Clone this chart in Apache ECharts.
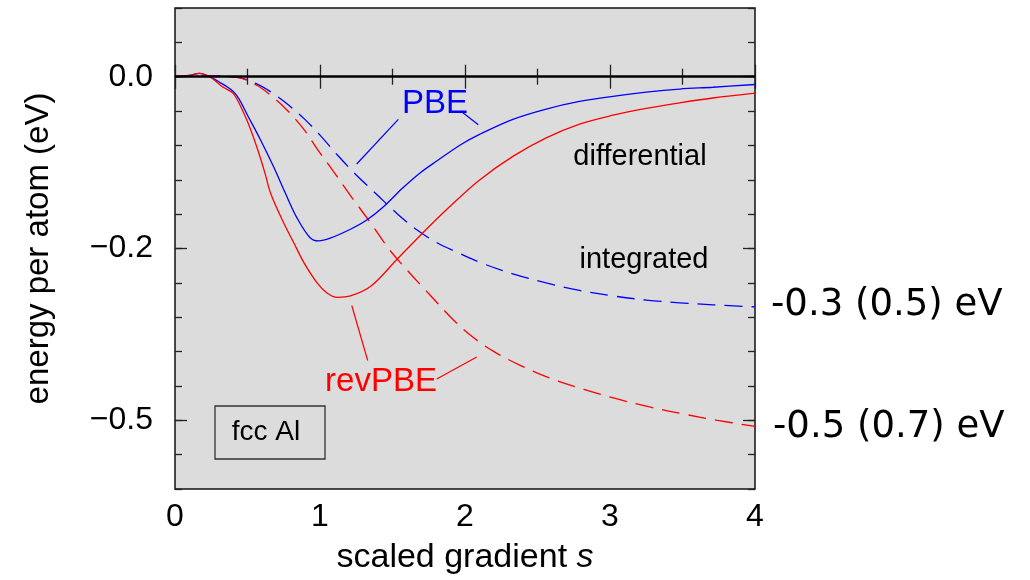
<!DOCTYPE html>
<html>
<head>
<meta charset="utf-8">
<title>fcc Al energy per atom vs scaled gradient</title>
<script src="https://cdn.jsdelivr.net/npm/echarts@6/dist/echarts.min.js"></script>
<style>
  html, body { margin: 0; padding: 0; background: #ffffff; }
  #chart { width: 1030px; height: 580px; }
</style>
</head>
<body>
<div id="chart"></div>
<script>
// PBE, differential (solid blue)
const pbeDiffS = [0, 0.1, 0.17, 0.24, 0.30, 0.40, 0.44, 0.50, 0.59, 0.68, 0.76, 0.84, 0.93, 0.99, 1.07, 1.21, 1.32, 1.44, 1.57, 1.69, 1.81, 1.97, 2.10, 2.33, 2.56, 2.79, 3.02, 3.25, 3.48, 3.71, 4.0];
const pbeDiffE = [0, 0.002, 0.005, 0.0, -0.007, -0.021, -0.032, -0.056, -0.092, -0.131, -0.169, -0.205, -0.234, -0.239, -0.235, -0.222, -0.209, -0.189, -0.162, -0.140, -0.122, -0.099, -0.084, -0.062, -0.047, -0.036, -0.0285, -0.0225, -0.018, -0.0153, -0.0113];

// revPBE, differential (solid red)
const revDiffS = [0, 0.1, 0.17, 0.24, 0.33, 0.40, 0.47, 0.52, 0.57, 0.62, 0.66, 0.75, 0.82, 0.89, 0.98, 1.05, 1.12, 1.21, 1.35, 1.53, 1.71, 1.87, 2.09, 2.33, 2.56, 2.79, 3.02, 3.25, 3.48, 3.71, 4.0];
const revDiffE = [0, 0.002, 0.005, 0.0, -0.015, -0.024, -0.051, -0.076, -0.106, -0.140, -0.170, -0.213, -0.242, -0.271, -0.300, -0.315, -0.321, -0.319, -0.305, -0.266, -0.227, -0.194, -0.152, -0.116, -0.089, -0.069, -0.056, -0.046, -0.038, -0.031, -0.024];

// PBE, integrated (dashed blue)
const pbeIntS = [0, 0.2, 0.43, 0.56, 0.66, 0.77, 0.89, 1.0, 1.12, 1.25, 1.39, 1.53, 1.67, 1.81, 1.95, 2.10, 2.33, 2.56, 2.79, 3.02, 3.25, 3.48, 3.71, 4.0];
const pbeIntE = [0, 0.001, -0.001, -0.010, -0.022, -0.039, -0.061, -0.085, -0.114, -0.143, -0.171, -0.199, -0.223, -0.242, -0.256, -0.270, -0.287, -0.300, -0.311, -0.319, -0.325, -0.329, -0.332, -0.335];

// revPBE, integrated (dashed red)
const revIntS = [0, 0.2, 0.43, 0.56, 0.66, 0.77, 0.89, 0.98, 1.09, 1.21, 1.35, 1.48, 1.62, 1.76, 1.92, 2.06, 2.20, 2.38, 2.59, 2.82, 3.05, 3.28, 3.51, 3.74, 4.0];
const revIntE = [0, 0.001, -0.001, -0.012, -0.027, -0.048, -0.077, -0.105, -0.137, -0.173, -0.213, -0.252, -0.286, -0.318, -0.354, -0.380, -0.400, -0.420, -0.439, -0.455, -0.469, -0.481, -0.491, -0.500, -0.509];

// axis ticks
const xTicks = [0, 1, 2, 3, 4];
const yTickValues = [0, -0.25, -0.5];
const yTickLabels = ['0.0', '\u22120.2', '\u22120.5'];

// leader lines for the labels (data coordinates)
const pbeLeaders = [[[1.54, -0.062], [1.253, -0.127]], [[1.97, -0.050], [2.092, -0.070]]];
const revLeaders = [[[1.219, -0.333], [1.329, -0.413]], [[1.805, -0.440], [2.081, -0.408]]];

const BLUE = '#0000ff';
const RED = '#ff0000';
const FONT = '"Liberation Sans", Arial, sans-serif';

function zip(xs, ys) {
  return xs.map((x, i) => [x, ys[i]]);
}

function curve(name, xs, ys, color, dashed) {
  return {
    name: name,
    type: 'line',
    data: zip(xs, ys),
    smooth: 0.35,
    symbol: 'none',
    silent: true,
    z: 3,
    lineStyle: { color: color, width: 1.3, type: dashed ? [18, 9] : 'solid' }
  };
}

function leader(seg, color) {
  return {
    type: 'line',
    data: seg,
    symbol: 'none',
    silent: true,
    lineStyle: { color: color, width: 1.2 }
  };
}

const tickStyle = { color: '#222', width: 1.3 };

const chart = echarts.init(document.getElementById('chart'));

const option = {
  animation: false,
  backgroundColor: '#ffffff',
  grid: {
    left: 175, right: 275, top: 8, bottom: 91,
    show: true,
    backgroundColor: '#dcdcdc',
    borderColor: '#111',
    borderWidth: 1.5
  },
  xAxis: [
    {
      type: 'value', position: 'bottom', min: 0, max: 4, interval: 1,
      axisLine: { show: false },
      axisTick: { inside: true, length: 12, lineStyle: tickStyle },
      minorTick: { show: true, splitNumber: 2, length: 8, lineStyle: tickStyle },
      splitLine: { show: false },
      axisLabel: {
        margin: 12, color: '#000', fontSize: 32, fontFamily: FONT,
        formatter: v => xTicks.indexOf(v) >= 0 ? String(v) : ''
      },
      name: 'scaled gradient {i|s}',
      nameLocation: 'middle',
      nameGap: 52,
      nameTextStyle: {
        color: '#000', fontSize: 34, fontFamily: FONT,
        rich: { i: { fontStyle: 'italic', fontSize: 34, fontFamily: FONT, color: '#000' } }
      }
    },
    {
      type: 'value', position: 'top', min: 0, max: 4, interval: 1,
      axisLine: { show: false },
      axisTick: { inside: true, length: 12, lineStyle: tickStyle },
      minorTick: { show: true, splitNumber: 2, length: 8, lineStyle: tickStyle },
      splitLine: { show: false },
      axisLabel: { show: false }
    }
  ],
  yAxis: [
    {
      type: 'value', position: 'left', min: -0.6, max: 0.1, interval: 0.05,
      axisLine: { show: false },
      axisTick: { inside: true, length: 7, lineStyle: tickStyle },
      splitLine: { show: false },
      axisLabel: {
        customValues: yTickValues,
        margin: 22, color: '#000', fontSize: 32, fontFamily: FONT,
        formatter: v => {
          const i = yTickValues.findIndex(t => Math.abs(t - v) < 1e-6);
          return i >= 0 ? yTickLabels[i] : '';
        }
      },
      name: 'energy per atom (eV)',
      nameLocation: 'middle',
      nameGap: 120,
      nameTextStyle: { color: '#000', fontSize: 33, fontFamily: FONT }
    },
    {
      type: 'value', position: 'left', min: -0.6, max: 0.1,
      axisLine: { show: false },
      axisTick: { inside: true, length: 12, customValues: yTickValues, lineStyle: tickStyle },
      splitLine: { show: false },
      axisLabel: { show: false }
    },
    {
      type: 'value', position: 'right', min: -0.6, max: 0.1, interval: 0.05,
      axisLine: { show: false },
      axisTick: { inside: true, length: 7, lineStyle: tickStyle },
      splitLine: { show: false },
      axisLabel: { show: false }
    },
    {
      type: 'value', position: 'right', min: -0.6, max: 0.1,
      axisLine: { show: false },
      axisTick: { inside: true, length: 12, customValues: yTickValues, lineStyle: tickStyle },
      splitLine: { show: false },
      axisLabel: { show: false }
    }
  ],
  series: [
    {
      type: 'line', data: [], silent: true,
      markLine: {
        silent: true, symbol: 'none', label: { show: false },
        lineStyle: { color: '#000', width: 2.5, type: 'solid' },
        data: [{ yAxis: 0 }]
      }
    },
    curve('PBE integrated', pbeIntS, pbeIntE, BLUE, true),
    curve('revPBE integrated', revIntS, revIntE, RED, true),
    curve('PBE differential', pbeDiffS, pbeDiffE, BLUE, false),
    curve('revPBE differential', revDiffS, revDiffE, RED, false),
    ...pbeLeaders.map(s => leader(s, BLUE)),
    ...revLeaders.map(s => leader(s, RED))
  ],
  graphic: [
    { type: 'text', x: 435, y: 104, style: { text: 'PBE', fill: BLUE, fontSize: 33, fontFamily: FONT, align: 'center', verticalAlign: 'middle' } },
    { type: 'text', x: 381, y: 382, style: { text: 'revPBE', fill: RED, fontSize: 33, fontFamily: FONT, align: 'center', verticalAlign: 'middle' } },
    { type: 'text', x: 640, y: 157, style: { text: 'differential', fill: '#000', fontSize: 29, fontFamily: FONT, align: 'center', verticalAlign: 'middle' } },
    { type: 'text', x: 644, y: 260, style: { text: 'integrated', fill: '#000', fontSize: 29, fontFamily: FONT, align: 'center', verticalAlign: 'middle' } },
    { type: 'rect', shape: { x: 215, y: 406, width: 110, height: 53 }, style: { fill: 'rgba(0,0,0,0)', stroke: '#333', lineWidth: 1.3 } },
    { type: 'text', x: 266, y: 432, style: { text: 'fcc Al', fill: '#000', fontSize: 28, fontFamily: FONT, align: 'center', verticalAlign: 'middle' } },
    { type: 'text', x: 771, y: 305, style: { text: '-0.3 (0.5) eV', fill: '#000', fontSize: 37, fontFamily: '"DejaVu Sans", sans-serif', align: 'left', verticalAlign: 'middle' } },
    { type: 'text', x: 773, y: 427, style: { text: '-0.5 (0.7) eV', fill: '#000', fontSize: 37, fontFamily: '"DejaVu Sans", sans-serif', align: 'left', verticalAlign: 'middle' } }
  ]
};

chart.setOption(option);
</script>
</body>
</html>
